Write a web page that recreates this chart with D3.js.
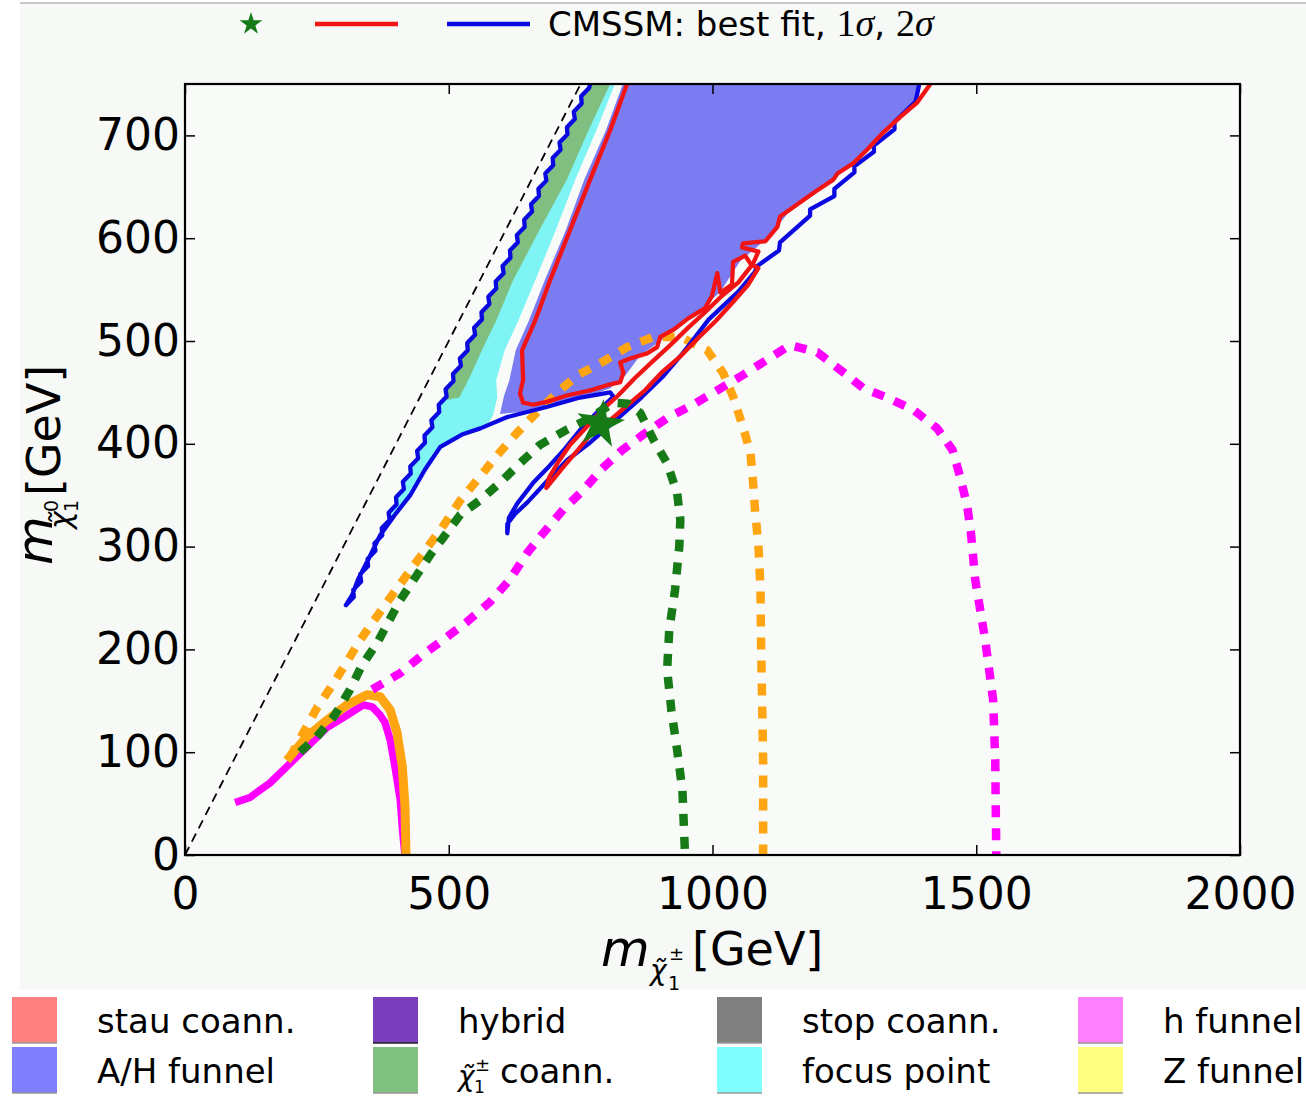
<!DOCTYPE html>
<html>
<head>
<meta charset="utf-8">
<script src="https://cdn.jsdelivr.net/npm/d3@7"></script>
<style>
  body { margin: 0; background: #fff; }
  text { font-family: "DejaVu Sans", sans-serif; }
</style>
</head>
<body>
<div id="chart"></div>
<script>
// ---- data (GeV) ----
const xTicks = [0, 500, 1000, 1500, 2000];
const yTicks = [0, 100, 200, 300, 400, 500, 600, 700];

const diagonal = [[0, 0], [750, 750]];   // m_chi0 = m_chi+-

// 2 sigma contour (blue), pieces in drawing order
const blueRight = [[1392,750],[1385,733],[1345,713],[1345,706],[1306,690],[1306,684],[1269,670],[1269,664],
  [1231,648],[1231,641],[1185,628],[1185,622],[1128,596],[1126,588],[1085,573],[1080,567],[1049,548],
  [993,521],[945,489],[905,465],[865,445],[828,428],[792,412],[765,400],[724,384],[687,364],[649,343],
  [626,332],[611,322],[611,313]];
const blueSliverUp = [[614,328],[630,342],[660,362],[690,378],[720,395],[750,414],[780,430],[812,446]];
const blueInner = [[806,450],[749,445],[687,436],[611,426],[560,415],[525,409],[484,397],[455,375],
  [427,350],[398,331],[370,311],[347,287],[328,268],[317,253]];
const blueOuter = [[305,243],[320,251],[319,258],[334,266],[332,273],[347,281],[346,288],[361,296],
  [359,303],[374,311],[373,318],[388,326],[386,333],[401,341],[400,348],[415,356],[413,363],[428,371],
  [427,378],[442,386],[440,393],[455,401],[454,408],[469,416],[467,423],[482,431],[481,438],[496,446],
  [494,453],[509,461],[508,468],[523,476],[521,483],[536,491],[535,498],[550,506],[548,513],[563,521],
  [562,528],[577,536],[575,543],[590,551],[589,558],[604,566],[602,573],[617,581],[616,588],[631,596],
  [629,603],[644,611],[643,618],[658,626],[656,633],[671,641],[670,648],[685,656],[683,663],[698,671],
  [697,678],[712,686],[710,693],[725,701],[724,708],[739,716],[737,723],[752,731],[751,738],[766,746],
  [768,750]];

// 1 sigma contours (red)
const redMain = [[838,750],[806,705],[768,657],[730,608],[692,559],[664,520],[639,491],[641,462],
  [635,449],[641,440],[660,438],[687,441],[724,447],[768,452],[800,457],[825,460],[831,469],[825,479],
  [844,483],[876,488],[895,494],[901,504],[926,511],[954,522],[986,532],[999,544],[1009,566],[1015,547],
  [1037,555],[1039,577],[1062,583],[1075,573],[1087,587],[1056,591],[1058,595],[1100,597],[1123,611],
  [1128,621],[1153,630],[1191,644],[1229,657],[1237,663],[1267,673],[1293,686],[1324,703],[1356,718],
  [1388,732],[1413,750]];
const redSliver = [[685,357],[715,376],[745,394],[772,411],[806,423],[840,438],[872,452],[905,470],
  [939,485],[973,503],[1007,520],[1039,538],[1068,555],[1087,571],[1075,574],[1049,557],[1018,544],
  [986,528],[954,513],[920,496],[886,480],[853,464],[821,447],[787,431],[759,415],[730,399],[706,381],
  [690,367]];

// filled regions (cut by the 2 sigma contour)
const ahFunnel = [[825,750],[1410,750],[1366,723],[1328,705],[1290,686],[1242,665],[1195,643],[1147,627],
  [1110,603],[1081,590],[1053,578],[1015,548],[977,530],[939,515],[901,500],[863,486],[834,466],[806,454],
  [768,447],[711,441],[673,436],[635,431],[597,429],[605,447],[615,462],[627,491],[652,520],[682,559],
  [722,608],[757,657],[798,705],[830,750]];
const focusPoint = [[815,750],[780,705],[740,657],[703,608],[664,559],[632,520],[606,491],[590,462],
  [592,445],[584,428],[559,405],[500,360],[450,320],[400,285],[350,262],[325,256],[275,248],[673,750]];
const charginoCoann = [[806,750],[765,705],[724,657],[672,608],[622,559],[590,520],[562,490],[540,465],
  [520,445],[470,440],[700,750]];

// LHC curves
const magentaSolid = [[95,51],[123,56],[161,70],[193,86],[231,105],[269,124],[307,136],[338,146],[355,144],
  [370,136],[379,129],[389,112],[398,86],[408,54],[413,21],[417,0]];
const orangeSolid = [[193,92],[231,115],[269,131],[307,146],[345,156],[370,154],[389,141],[402,119],
  [412,86],[417,47],[419,0]];
const greenDashed = [[218,100],[250,115],[284,136],[313,161],[336,185],[364,206],[408,248],[465,292],
  [522,331],[559,345],[597,362],[635,381],[673,399],[721,413],[768,425],[812,440],[840,439],[863,430],
  [888,404],[914,381],[933,352],[939,326],[937,300],[929,258],[918,219],[914,180],[922,141],[933,102],
  [943,63],[946,24],[948,0]];
const orangeDashed = [[199,95],[250,143],[279,165],[307,188],[332,209],[379,243],[427,277],[484,316],
  [522,345],[559,368],[592,389],[630,411],[668,431],[706,450],[745,467],[793,480],[838,494],[888,504],
  [939,504],[990,491],[1020,469],[1039,446],[1058,416],[1072,391],[1077,362],[1081,333],[1087,302],
  [1091,258],[1092,209],[1094,151],[1096,92],[1096,0]];
const magentaDashed = [[355,161],[408,177],[451,195],[489,209],[535,227],[578,246],[616,268],[649,294],
  [679,313],[717,336],[755,355],[791,376],[829,394],[869,409],[914,425],[963,438],[1009,452],[1058,467],
  [1104,482],[1147,496],[1199,489],[1242,472],[1286,454],[1331,445],[1381,433],[1426,415],[1455,394],
  [1470,367],[1483,339],[1490,313],[1498,268],[1517,209],[1532,151],[1536,92],[1538,0]];

const bestFit = [787, 419];

const legendLabels = ["stau coann.", "hybrid", "stop coann.", "h funnel",
                      "A/H funnel", "chargino coann.", "focus point", "Z funnel"];
const legendColors = ["#ff8080", "#7b3fbd", "#808080", "#ff80ff",
                      "#8080ff", "#80c080", "#80ffff", "#ffff80"];

// ---- layout ----
const W = 1306, H = 1097;
const x = d3.scaleLinear().domain([0, 2000]).range([185, 1240]);
const y = d3.scaleLinear().domain([0, 750]).range([855, 84]);
const line = d3.line().x(d => x(d[0])).y(d => y(d[1]));

const svg = d3.select("#chart").append("svg")
    .attr("width", W).attr("height", H);

// figure background
svg.append("rect").attr("x", 20).attr("y", 4).attr("width", W - 20).attr("height", 986)
    .attr("fill", "#f6f9f6");
svg.append("line").attr("x1", 20).attr("x2", W).attr("y1", 3).attr("y2", 3)
    .attr("stroke", "#c8c8c8").attr("stroke-width", 2);
svg.append("rect").attr("x", x(0)).attr("y", y(750))
    .attr("width", x(2000) - x(0)).attr("height", y(0) - y(750))
    .attr("fill", "#f9fbf9");

const defs = svg.append("defs");
defs.append("clipPath").attr("id", "plotclip").append("rect")
    .attr("x", x(0)).attr("y", y(750))
    .attr("width", x(2000) - x(0)).attr("height", y(0) - y(750));

const blueAll = blueRight.concat(blueSliverUp, blueInner, blueOuter);
defs.append("clipPath").attr("id", "blueclip").append("path")
    .attr("d", line(blueAll) + "Z");

const plot = svg.append("g").attr("clip-path", "url(#plotclip)");

// regions, cut to the 2 sigma area
const fills = plot.append("g").attr("clip-path", "url(#blueclip)");
fills.append("path").attr("d", line(ahFunnel) + "Z").attr("fill", "#7c7cf2");
fills.append("path").attr("d", line(focusPoint) + "Z").attr("fill", "#7ef4f4");
fills.append("path").attr("d", line(charginoCoann) + "Z").attr("fill", "#80bf80");

// diagonal
plot.append("path").attr("d", line(diagonal))
    .attr("fill", "none").attr("stroke", "#000").attr("stroke-width", 1.8)
    .attr("stroke-dasharray", "9,6");

// LHC reach curves
const curve = (data, color, width, dash) => plot.append("path")
    .attr("d", line(data)).attr("fill", "none")
    .attr("stroke", color).attr("stroke-width", width)
    .attr("stroke-linejoin", "round")
    .attr("stroke-dasharray", dash || null);

curve(magentaSolid, "#ff00ff", 7.5);
curve(orangeSolid, "#ffa511", 9);
curve(magentaDashed, "#ff00ff", 8.5, "12,11");
curve(orangeDashed, "#ffa511", 8.5, "12,11");

// contours
const contourW = 4.3;
plot.append("path").attr("d", line(blueAll))
    .attr("fill", "none").attr("stroke", "#0a0ae0").attr("stroke-width", contourW)
    .attr("stroke-linejoin", "round");
plot.append("path").attr("d", line(redSliver) + "Z")
    .attr("fill", "none").attr("stroke", "#f01414").attr("stroke-width", contourW)
    .attr("stroke-linejoin", "round");
plot.append("path").attr("d", line(redMain))
    .attr("fill", "none").attr("stroke", "#f01414").attr("stroke-width", contourW)
    .attr("stroke-linejoin", "round");

curve(greenDashed, "#167a16", 8.5, "12,11");

// best fit point
plot.append("path")
    .attr("d", d3.symbol(d3.symbolStar).size(720)())
    .attr("transform", `translate(${x(bestFit[0])},${y(bestFit[1])}) rotate(8)`)
    .attr("fill", "#167a16");

// frame and ticks
const tickFont = "44px";
const gx = svg.append("g").attr("transform", `translate(0,${y(0)})`)
    .call(d3.axisBottom(x).tickValues(xTicks).tickFormat(d3.format("d"))
        .tickSizeInner(-10).tickSizeOuter(0).tickPadding(23));
const gy = svg.append("g").attr("transform", `translate(${x(0)},0)`)
    .call(d3.axisLeft(y).tickValues(yTicks).tickFormat(d3.format("d"))
        .tickSizeInner(-10).tickSizeOuter(0).tickPadding(5));
const gt = svg.append("g").attr("transform", `translate(0,${y(750)})`)
    .call(d3.axisTop(x).tickValues(xTicks).tickFormat("").tickSizeInner(-10).tickSizeOuter(0));
const gr = svg.append("g").attr("transform", `translate(${x(2000)},0)`)
    .call(d3.axisRight(y).tickValues(yTicks).tickFormat("").tickSizeInner(-10).tickSizeOuter(0));
[gx, gy, gt, gr].forEach(g => {
  g.select(".domain").remove();
  g.selectAll(".tick line").attr("stroke", "#000").attr("stroke-width", 1.5);
  g.selectAll("text").attr("font-size", tickFont).attr("fill", "#000")
      .attr("font-family", "DejaVu Sans");
});
svg.append("rect").attr("x", x(0)).attr("y", y(750))
    .attr("width", x(2000) - x(0)).attr("height", y(0) - y(750))
    .attr("fill", "none").attr("stroke", "#000").attr("stroke-width", 2.2);

// axis titles
const serif = "'Liberation Serif', 'DejaVu Serif', serif";
const xl = svg.append("g");
xl.append("text").attr("x", 601).attr("y", 966).attr("font-family", serif)
    .attr("font-style", "italic").attr("font-size", 50).text("m");
xl.append("text").attr("x", 650).attr("y", 980).attr("font-family", serif)
    .attr("font-style", "italic").attr("font-size", 28).text("χ\u0303");
xl.append("text").attr("x", 669).attr("y", 960).attr("font-size", 18).text("±");
xl.append("text").attr("x", 668).attr("y", 990).attr("font-family", serif).attr("font-size", 19).text("1");
xl.append("text").attr("x", 692).attr("y", 965).attr("font-size", 46).text("[GeV]");

const yl = svg.append("g").attr("transform", "translate(57,0) rotate(-90)");
yl.append("text").attr("x", -565).attr("y", -5).attr("font-family", serif)
    .attr("font-style", "italic").attr("font-size", 50).text("m");
yl.append("text").attr("x", -529).attr("y", 14).attr("font-family", serif)
    .attr("font-style", "italic").attr("font-size", 30).text("χ\u0303");
yl.append("text").attr("x", -512).attr("y", 1).attr("font-family", serif).attr("font-size", 19).text("0");
yl.append("text").attr("x", -512).attr("y", 21).attr("font-family", serif).attr("font-size", 19).text("1");
yl.append("text").attr("x", -496).attr("y", 3).attr("font-size", 46).text("[GeV]");

// top legend
svg.append("path").attr("d", d3.symbol(d3.symbolStar).size(160)())
    .attr("transform", "translate(251,24)").attr("fill", "#167a16");
svg.append("line").attr("x1", 315).attr("x2", 398).attr("y1", 24).attr("y2", 24)
    .attr("stroke", "#f01414").attr("stroke-width", 4.5);
svg.append("line").attr("x1", 447).attr("x2", 530).attr("y1", 24).attr("y2", 24)
    .attr("stroke", "#0a0ae0").attr("stroke-width", 4.5);
const lt = svg.append("text").attr("x", 548).attr("y", 36).attr("font-size", 34);
lt.append("tspan").text("CMSSM: best fit, ");
lt.append("tspan").attr("font-family", serif).attr("font-size", 38).text("1");
lt.append("tspan").attr("font-family", serif).attr("font-style", "italic").attr("font-size", 38).text("σ");
lt.append("tspan").text(", ");
lt.append("tspan").attr("font-family", serif).attr("font-size", 38).text("2");
lt.append("tspan").attr("font-family", serif).attr("font-style", "italic").attr("font-size", 38).text("σ");

// bottom legend
const patchX = [12, 373, 717, 1078];
const rowY = [997, 1047];
legendLabels.forEach((lab, i) => {
  const col = i % 4, row = Math.floor(i / 4);
  const px = patchX[col], py = rowY[row];
  svg.append("rect").attr("x", px).attr("y", py).attr("width", 45).attr("height", 46)
      .attr("fill", legendColors[i]);
  svg.append("line").attr("x1", px).attr("x2", px + 45).attr("y1", py + 46).attr("y2", py + 46)
      .attr("stroke", i === 1 ? "#222" : "#999").attr("stroke-width", 1.5);
  const tx = px + 85, ty = py + 36;
  if (lab === "chargino coann.") {
    svg.append("text").attr("x", tx).attr("y", ty + 3).attr("font-family", serif)
        .attr("font-style", "italic").attr("font-size", 28).text("χ\u0303");
    svg.append("text").attr("x", tx + 17).attr("y", ty - 12).attr("font-size", 18).text("±");
    svg.append("text").attr("x", tx + 16).attr("y", ty + 10).attr("font-family", serif)
        .attr("font-size", 17).text("1");
    svg.append("text").attr("x", tx + 42).attr("y", ty).attr("font-size", 34).text("coann.");
  } else {
    svg.append("text").attr("x", tx).attr("y", ty).attr("font-size", 34).text(lab);
  }
});
</script>
</body>
</html>
